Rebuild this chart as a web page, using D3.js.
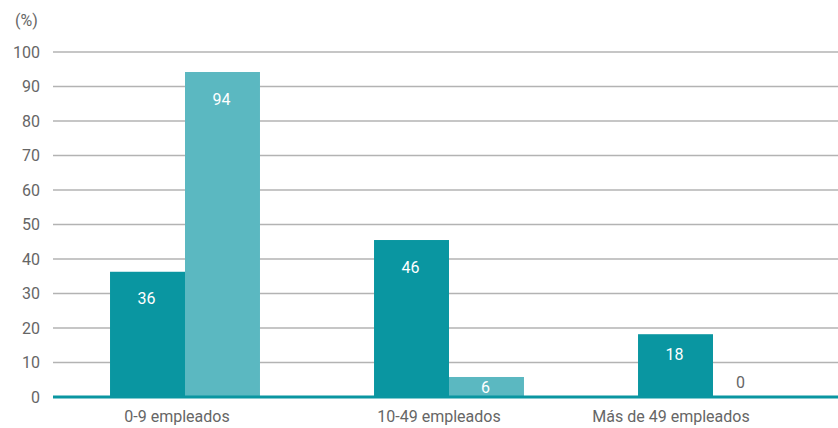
<!DOCTYPE html>
<html>
<head>
<meta charset="utf-8">
<script src="https://cdn.jsdelivr.net/npm/d3@7"></script>
<style>
  html, body { margin: 0; padding: 0; background: #fff; }
  svg { display: block; font-family: "Roboto", "Liberation Sans", sans-serif; }
</style>
</head>
<body>
<svg id="chart" width="838" height="428"></svg>
<script>
const categories = ["0-9 empleados", "10-49 empleados", "Más de 49 empleados"];
const seriesNames = ["serie1", "serie2"];
const series1 = [36.3, 45.5, 18.2];
const series2 = [94.2, 5.8, 0];
const yTicks = [0, 10, 20, 30, 40, 50, 60, 70, 80, 90, 100];
const unitLabel = "(%)";

(function () {
const colors = { serie1: "#0a96a1", serie2: "#5bb8c1" };

const svg = d3.select("#chart");
const mLeft = 53, mRight = 845, mTop = 52, mBottom = 397;

const x0 = d3.scaleBand().domain(categories).range([mLeft, mRight])
  .paddingInner(0.432).paddingOuter(0.216);
const x1 = d3.scaleBand().domain(seriesNames).range([0, x0.bandwidth()]).padding(0);
const y = d3.scaleLinear().domain([0, 100]).range([mBottom, mTop]);
// category label positions (labels are not exactly centred under the bar groups)
const xLabIdx = d3.scaleLinear().domain([0, 1, 2]).range([177, 439, 671]);

// gridlines
svg.append("g").selectAll("line").data(yTicks.filter(d => d > 0)).join("line")
  .attr("x1", mLeft).attr("x2", 838)
  .attr("y1", d => y(d)).attr("y2", d => y(d))
  .attr("stroke", "#b3b3b3").attr("stroke-width", 1.5);

// y axis labels
const yAxis = d3.axisLeft(y).tickValues(yTicks).tickSize(0).tickPadding(0);
const ga = svg.append("g").attr("transform", `translate(40,0)`).call(yAxis);
ga.select(".domain").remove();
ga.selectAll("text").attr("fill", "#666").attr("font-size", 16)
  .style("font-family", '"Roboto", sans-serif');

svg.append("text").attr("x", 15).attr("y", 26).attr("fill", "#666")
  .attr("font-size", 16).text(unitLabel);

const data = categories.map((c, i) => ({ cat: c, vals: [
  { key: "serie1", v: series1[i] }, { key: "serie2", v: series2[i] } ] }));

const groups = svg.append("g").selectAll("g").data(data).join("g")
  .attr("transform", d => `translate(${x0(d.cat)},0)`);

groups.selectAll("rect").data(d => d.vals).join("rect")
  .attr("x", d => x1(d.key)).attr("width", x1.bandwidth())
  .attr("y", d => y(d.v)).attr("height", d => mBottom - y(d.v))
  .attr("fill", d => colors[d.key]);

groups.selectAll("text").data(d => d.vals).join("text")
  .attr("x", d => x1(d.key) + x1.bandwidth() / 2 - ((mBottom - y(d.v)) < 1 ? 10 : 1))
  .attr("y", d => {
    const h = mBottom - y(d.v);
    if (h < 1) return mBottom - 15;
    if (h < 30) return y(d.v) + h / 2;
    return y(d.v) + Math.min(27, 0.32 * h);
  })
  .attr("dy", "0.35em")
  .attr("text-anchor", "middle")
  .attr("font-size", 16)
  .attr("fill", d => (mBottom - y(d.v)) < 1 ? "#666" : "#fff")
  .text(d => d3.format(".0f")(d.v));

// baseline
svg.append("line").attr("x1", mLeft).attr("x2", 838)
  .attr("y1", mBottom).attr("y2", mBottom)
  .attr("stroke", "#0a96a1").attr("stroke-width", 3);

// x axis labels
svg.append("g").selectAll("text").data(categories).join("text")
  .attr("x", (d, i) => xLabIdx(i))
  .attr("y", mBottom + 14)
  .attr("dy", "0.71em")
  .attr("text-anchor", "middle")
  .attr("fill", "#666").attr("font-size", 16)
  .text(d => d);
})();
</script>
</body>
</html>
